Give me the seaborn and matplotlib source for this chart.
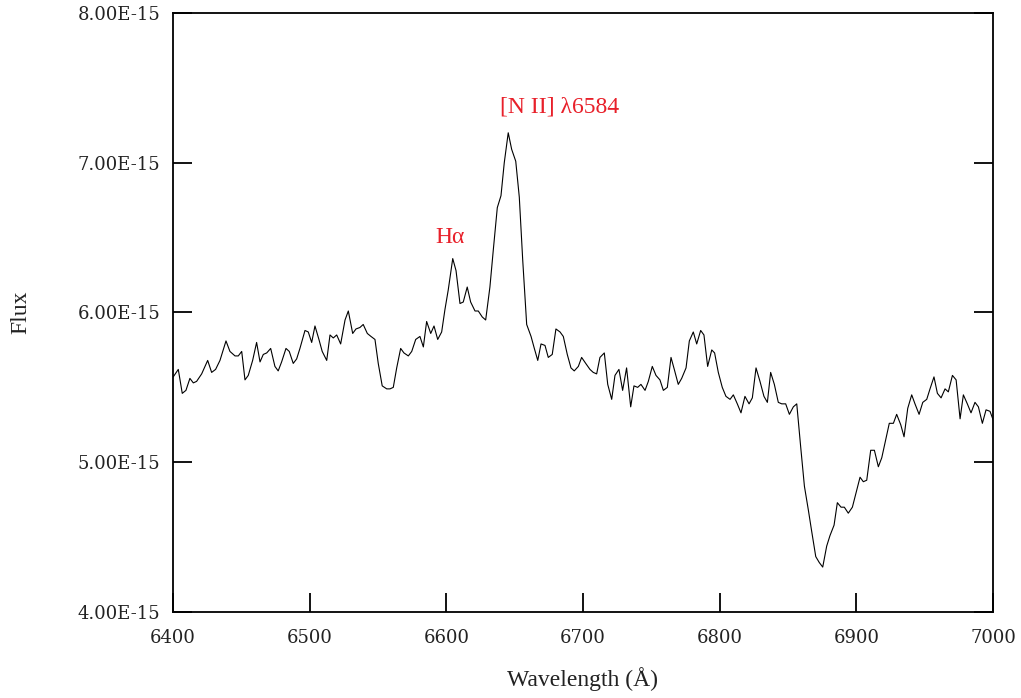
import pandas as pd
import matplotlib.pyplot as plt
import seaborn as sns
from matplotlib.ticker import FuncFormatter

# spectrum (wavelength in Angstrom, flux in 1e-15 units)
wavelength = [
    6400.2, 6403.9, 6406.8, 6409.5, 6412.4, 6414.9, 6417.3, 6421.0, 6425.4, 6428.3,
    6431.2, 6434.4, 6438.8, 6441.7, 6445.4, 6447.8, 6450.3, 6452.7, 6455.1, 6458.3,
    6461.2, 6463.7, 6466.1, 6468.6, 6471.5, 6474.6, 6477.0, 6479.5, 6482.7, 6485.1,
    6488.0, 6490.5, 6492.9, 6496.6, 6499.0, 6501.5, 6503.9, 6506.8, 6509.2, 6512.5,
    6514.9, 6517.3, 6519.8, 6522.7, 6525.9, 6528.3, 6531.5, 6533.9, 6536.8, 6539.2,
    6542.2, 6544.9, 6547.8, 6550.2, 6553.1, 6556.4, 6558.8, 6561.2, 6563.7, 6566.6,
    6569.0, 6572.2, 6574.7, 6577.6, 6580.7, 6583.2, 6585.6, 6588.6, 6591.0, 6593.7,
    6596.6, 6599.0, 6601.4, 6604.7, 6607.1, 6610.0, 6612.4, 6615.3, 6617.8, 6621.0,
    6623.4, 6626.3, 6628.8, 6631.9, 6634.4, 6637.3, 6640.0, 6642.4, 6645.3, 6647.8,
    6650.8, 6653.4, 6655.9, 6658.8, 6662.0, 6664.4, 6666.9, 6669.3, 6672.2, 6674.6,
    6677.5, 6680.2, 6683.2, 6685.6, 6688.5, 6691.2, 6693.6, 6696.6, 6699.0, 6702.0,
    6705.1, 6707.5, 6710.0, 6712.4, 6715.6, 6718.1, 6721.0, 6723.4, 6726.3, 6729.0,
    6731.9, 6734.9, 6737.3, 6740.0, 6742.4, 6745.4, 6747.8, 6750.7, 6753.4, 6756.3,
    6758.8, 6761.7, 6764.4, 6766.8, 6769.7, 6772.2, 6775.4, 6777.8, 6780.7, 6783.2,
    6786.1, 6788.5, 6791.2, 6794.2, 6796.3, 6799.0, 6801.9, 6804.6, 6807.6, 6810.0,
    6812.9, 6815.6, 6818.5, 6821.5, 6823.9, 6826.6, 6829.5, 6832.4, 6834.9, 6837.3,
    6840.0, 6842.9, 6845.4, 6848.3, 6851.0, 6853.9, 6856.4, 6859.3, 6862.0, 6864.9,
    6867.3, 6870.3, 6872.9, 6875.4, 6878.3, 6880.7, 6883.7, 6886.1, 6888.8, 6891.2,
    6894.1, 6897.1, 6899.6, 6902.7, 6905.1, 6907.6, 6910.5, 6913.2, 6916.1, 6918.6,
    6921.5, 6924.1, 6927.1, 6929.5, 6932.5, 6934.9, 6937.6, 6940.5, 6942.9, 6945.9,
    6948.6, 6951.5, 6953.9, 6956.8, 6959.3, 6962.0, 6964.9, 6967.3, 6970.3, 6973.0,
    6975.9, 6978.3, 6981.2, 6983.9, 6986.8, 6989.3, 6992.2, 6994.9, 6997.8, 7000.2,
]
flux = [
    5.57, 5.62, 5.46, 5.48, 5.56, 5.53, 5.54, 5.59, 5.68, 5.60,
    5.62, 5.68, 5.81, 5.74, 5.71, 5.71, 5.74, 5.55, 5.58, 5.68,
    5.80, 5.67, 5.72, 5.73, 5.76, 5.64, 5.61, 5.67, 5.76, 5.74,
    5.66, 5.69, 5.76, 5.88, 5.87, 5.80, 5.91, 5.82, 5.74, 5.68,
    5.85, 5.83, 5.85, 5.79, 5.95, 6.01, 5.86, 5.89, 5.90, 5.92,
    5.86, 5.84, 5.82, 5.66, 5.51, 5.49, 5.49, 5.50, 5.63, 5.76,
    5.73, 5.71, 5.74, 5.82, 5.84, 5.77, 5.94, 5.86, 5.91, 5.82,
    5.87, 6.02, 6.15, 6.36, 6.28, 6.06, 6.07, 6.17, 6.07, 6.01,
    6.01, 5.97, 5.95, 6.17, 6.42, 6.70, 6.78, 7.00, 7.20, 7.09,
    7.01, 6.77, 6.35, 5.92, 5.84, 5.76, 5.68, 5.79, 5.78, 5.70,
    5.72, 5.89, 5.87, 5.84, 5.72, 5.63, 5.61, 5.64, 5.70, 5.66,
    5.62, 5.60, 5.59, 5.70, 5.73, 5.52, 5.42, 5.58, 5.62, 5.48,
    5.63, 5.37, 5.51, 5.50, 5.52, 5.48, 5.54, 5.64, 5.58, 5.55,
    5.48, 5.50, 5.70, 5.62, 5.52, 5.56, 5.63, 5.81, 5.87, 5.79,
    5.88, 5.85, 5.64, 5.75, 5.73, 5.60, 5.50, 5.44, 5.42, 5.45,
    5.39, 5.33, 5.44, 5.39, 5.43, 5.63, 5.54, 5.44, 5.40, 5.60,
    5.52, 5.40, 5.39, 5.39, 5.32, 5.37, 5.39, 5.10, 4.84, 4.68,
    4.54, 4.37, 4.33, 4.30, 4.44, 4.51, 4.58, 4.73, 4.70, 4.70,
    4.66, 4.70, 4.79, 4.90, 4.87, 4.88, 5.08, 5.08, 4.97, 5.03,
    5.15, 5.26, 5.26, 5.32, 5.25, 5.17, 5.36, 5.45, 5.39, 5.32,
    5.40, 5.42, 5.49, 5.57, 5.46, 5.43, 5.49, 5.47, 5.58, 5.55,
    5.29, 5.45, 5.39, 5.33, 5.40, 5.37, 5.26, 5.35, 5.34, 5.28,
]

x_ticks = [6400, 6500, 6600, 6700, 6800, 6900, 7000]
y_ticks = [4e-15, 5e-15, 6e-15, 7e-15, 8e-15]

line_labels = ['H\u03b1', '[N II] \u03bb6584']
label_x = [6602.7, 6683.2]
label_y = [6.50e-15, 7.37e-15]

df = pd.DataFrame({'wavelength': wavelength,
                   'flux': [f * 1e-15 for f in flux]})

sns.set_style('white')
plt.rcParams['font.family'] = ['DejaVu Serif']

fig = plt.figure(figsize=(10.21, 6.98), dpi=100)
ax = fig.add_axes([0.1694, 0.1232, 0.8032, 0.8582])

sns.lineplot(data=df, x='wavelength', y='flux', sort=False, estimator=None,
             color='black', linewidth=0.8, ax=ax)

ax.set_xlim(6400, 7000)
ax.set_ylim(4e-15, 8e-15)
ax.set_xticks(x_ticks)
ax.set_yticks(y_ticks)
ax.yaxis.set_major_formatter(FuncFormatter(lambda v, p: f'{v:.2E}'))

# inward ticks on left, bottom and right; none on top
ax.tick_params(axis='both', which='major', direction='in', length=14, width=1.3,
               labelsize=13, color='black', labelcolor='#222222',
               left=True, bottom=True, right=True, top=False)
ax.tick_params(axis='x', pad=12)
ax.tick_params(axis='y', pad=9)
for s in ax.spines.values():
    s.set_linewidth(1.3)
    s.set_color('black')

ax.set_xlabel('Wavelength (\u00c5)', fontsize=17, family='Liberation Serif', color='#222222')
ax.set_ylabel('Flux', fontsize=17, family='Liberation Serif', color='#222222')
ax.xaxis.set_label_coords(0.5, -0.092)
ax.yaxis.set_label_coords(-0.173, 0.5)

for txt, xx, yy in zip(line_labels, label_x, label_y):
    ax.text(xx, yy, txt, color='#e8202a', fontsize=17, family='Liberation Serif',
            ha='center', va='center')

fig.savefig('out.png', dpi=100)
